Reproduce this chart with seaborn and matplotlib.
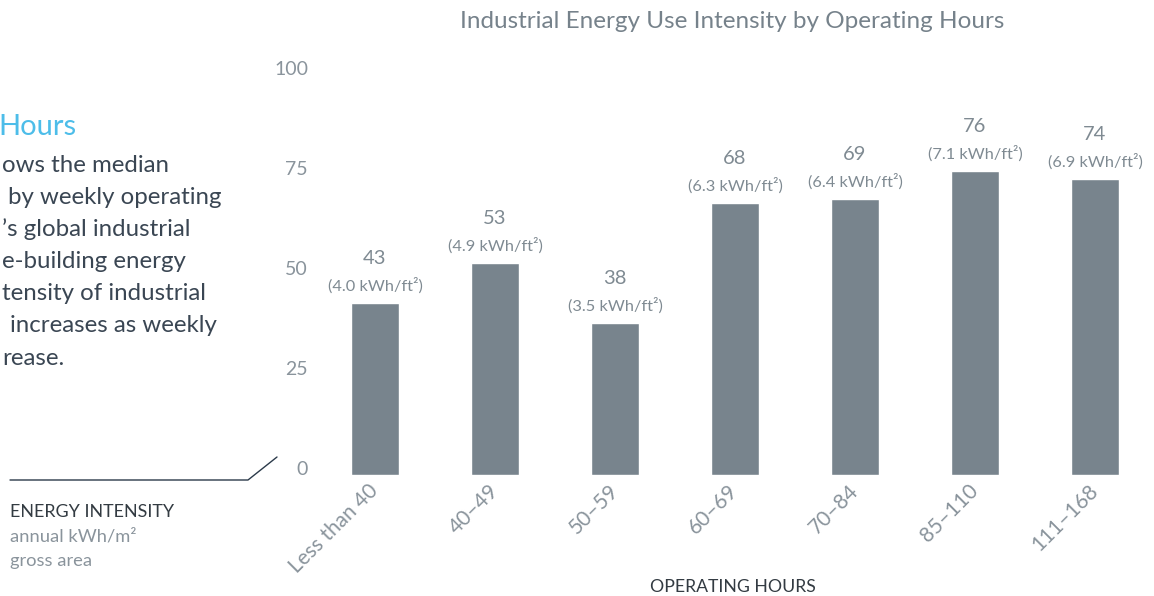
import seaborn as sns
import matplotlib.pyplot as plt
import pandas as pd

# Data
hours = ['Less than 40', '40–49', '50–59', '60–69', '70–84', '85–110', '111–168']
eui_m2 = [43, 53, 38, 68, 69, 76, 74]
eui_ft2 = [4.0, 4.9, 3.5, 6.3, 6.4, 7.1, 6.9]
y_ticks = [0, 25, 50, 75, 100]

df = pd.DataFrame({'hours': hours, 'eui': eui_m2})

sns.set_style('white')
plt.rcParams['font.family'] = ['Lato', 'DejaVu Sans']

W, H = 1154, 596
fig = plt.figure(figsize=(W / 100, H / 100), dpi=100)
ax = fig.add_axes([315 / W, 1 - 475 / H, 840 / W, 408 / H])

bar_col = '#78848d'
tick_col = '#8a949c'
dark = '#333b42'

sns.barplot(data=df, x='hours', y='eui', color=bar_col, width=0.4,
            saturation=1, ax=ax)

ax.set_xlim(-0.5, 6.5)
ax.set_ylim(0, 102)
ax.set_yticks(y_ticks)
ax.set_yticklabels([str(t) for t in y_ticks], fontsize=14, color=tick_col)
for lab in ax.get_yticklabels():
    lab.set_va('baseline')
ax.tick_params(axis='y', length=0, pad=5)
ax.tick_params(axis='x', length=0, pad=9)
for lab in ax.get_xticklabels():
    lab.set_rotation(45)
    lab.set_ha('right')
    lab.set_va('center')
    lab.set_rotation_mode('anchor')
    lab.set_fontsize(15)
    lab.set_color(tick_col)
sns.despine(ax=ax, left=True, bottom=True)
ax.grid(False)
ax.set_ylabel('')
ax.set_xlabel('')

# value labels above bars
for i, (v, f) in enumerate(zip(eui_m2, eui_ft2)):
    ax.annotate(str(v), (i, v), xytext=(0, 32), textcoords='offset points',
                ha='center', va='center', fontsize=14.5, color='#7f8a92')
    ax.annotate(f'({f:.1f} kWh/ft²)', (i, v), xytext=(0, 12.5),
                textcoords='offset points', ha='center', va='center',
                fontsize=11.8, color='#7f8a92')

# titles
fig.text(732 / W, 1 - 22 / H, 'Industrial Energy Use Intensity by Operating Hours',
         ha='center', va='center', fontsize=17.5, color='#76828b')
fig.text(733 / W, 1 - 587 / H, 'OPERATING HOURS', ha='center', va='center',
         fontsize=12.7, color=dark)

# cropped side text
fig.text(-2 / W, 1 - 127 / H, 'Hours', ha='left', va='center', fontsize=21,
         color='#4dbde9')
body = [(2, 'ows the median'), (8, 'by weekly operating'),
        (2, "’s global industrial"), (2, 'e-building energy'),
        (2, 'tensity of industrial'), (10, 'increases as weekly'),
        (2, 'rease.')]
for k, (x0, line) in enumerate(body):
    fig.text(x0 / W, 1 - (165 + 32.2 * k) / H, line, ha='left', va='center',
             fontsize=17.3, color='#3a4653')

# y-axis legend block
fig.add_artist(plt.Line2D([10 / W, 248 / W, 277 / W],
                          [1 - 480 / H, 1 - 480 / H, 1 - 457 / H],
                          color='#2b3a4a', lw=1))
fig.text(10 / W, 1 - 512 / H, 'ENERGY INTENSITY', ha='left', va='center',
         fontsize=12.9, color=dark)
fig.text(10 / W, 1 - 537 / H, 'annual kWh/m²', ha='left', va='center',
         fontsize=13.2, color=tick_col)
fig.text(10 / W, 1 - 561 / H, 'gross area', ha='left', va='center',
         fontsize=13.2, color=tick_col)

fig.savefig('out.png', dpi=100)
